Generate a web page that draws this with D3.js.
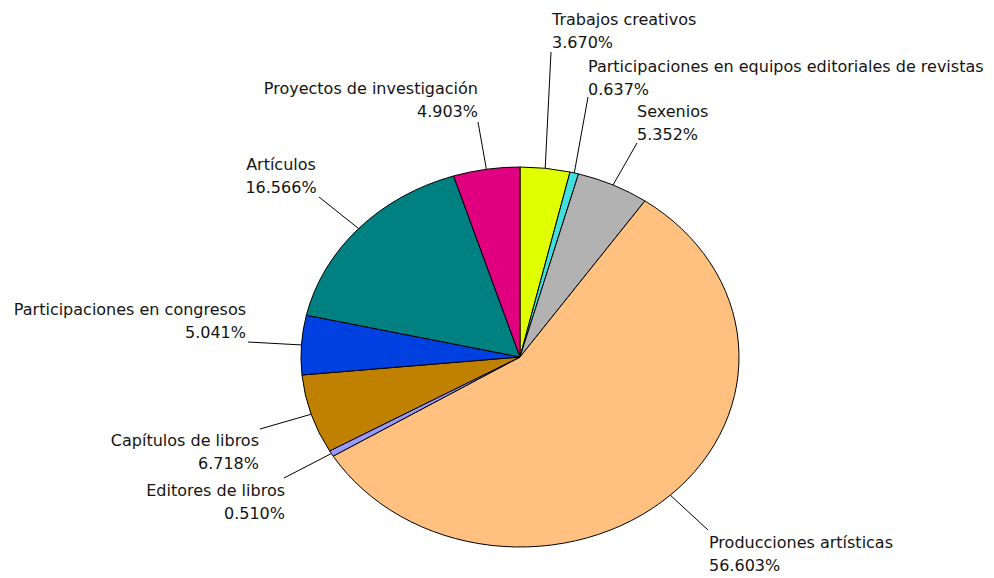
<!DOCTYPE html>
<html>
<head>
<meta charset="utf-8">
<script src="https://cdn.jsdelivr.net/npm/d3@7"></script>
<style>
  html, body { margin: 0; padding: 0; background: #ffffff; }
  svg { display: block; }
  text { font-family: "DejaVu Sans", Verdana, sans-serif; font-size: 16px; fill: #141414; }
</style>
</head>
<body>
<svg id="chart" width="994" height="578"></svg>
<script>
// ---- data ----
const categories = [
  "Trabajos creativos",
  "Participaciones en equipos editoriales de revistas",
  "Sexenios",
  "Producciones artísticas",
  "Editores de libros",
  "Capítulos de libros",
  "Participaciones en congresos",
  "Artículos",
  "Proyectos de investigación"
];
const values = [3.670, 0.637, 5.352, 56.603, 0.510, 6.718, 5.041, 16.566, 4.903];
const valueLabels = ["3.670%", "0.637%", "5.352%", "56.603%", "0.510%", "6.718%", "5.041%", "16.566%", "4.903%"];
const colors = ["#e0ff00", "#40e0e0", "#b2b2b2", "#ffc080", "#9999ff", "#c08000", "#0040e0", "#008080", "#e0007f"];

// ---- layout (label placement) ----
const labelLayout = [
  { anchor: "start",  x: 552, y: 25,  lx: 551, ly: 52 },
  { anchor: "start",  x: 588, y: 72,  lx: 588, ly: 97 },
  { anchor: "start",  x: 637, y: 117, lx: 637, ly: 143 },
  { anchor: "start",  x: 709, y: 548, lx: 708, ly: 530 },
  { anchor: "end",    x: 285, y: 496, lx: 284, ly: 478 },
  { anchor: "end",    x: 259, y: 446, lx: 260, ly: 429 },
  { anchor: "end",    x: 246, y: 315, lx: 248, ly: 342 },
  { anchor: "middle", x: 281, y: 170, lx: 319, ly: 197 },
  { anchor: "end",    x: 478, y: 94,  lx: 478, ly: 122 }
];

const cx = 520, cy = 357, rx = 219, ry = 190;
const lineH = 22.5;

const svg = d3.select("#chart");

const pie = d3.pie().sort(null).value(d => d)(values);
const arc = d3.arc().innerRadius(0).outerRadius(rx);

const g = svg.append("g").attr("transform", `translate(${cx},${cy}) scale(1,${ry / rx})`);
g.selectAll("path")
  .data(pie)
  .join("path")
  .attr("d", arc)
  .attr("fill", (d, i) => colors[i])
  .attr("stroke", "#000")
  .attr("stroke-width", 1)
  .attr("vector-effect", "non-scaling-stroke")
  .attr("stroke-linejoin", "round");

// leader lines
const lines = svg.append("g");
pie.forEach((d, i) => {
  const a = (d.startAngle + d.endAngle) / 2;
  const px = cx + rx * Math.sin(a);
  const py = cy - ry * Math.cos(a);
  const L = labelLayout[i];
  lines.append("line")
    .attr("x1", px).attr("y1", py)
    .attr("x2", L.lx).attr("y2", L.ly)
    .attr("stroke", "#000").attr("stroke-width", 1);
});

// labels
const labels = svg.append("g");
categories.forEach((c, i) => {
  const L = labelLayout[i];
  const t = labels.append("text").attr("text-anchor", L.anchor);
  t.append("tspan").attr("x", L.x).attr("y", L.y).text(c);
  t.append("tspan").attr("x", L.x).attr("y", L.y + lineH).text(valueLabels[i]);
});
</script>
</body>
</html>
